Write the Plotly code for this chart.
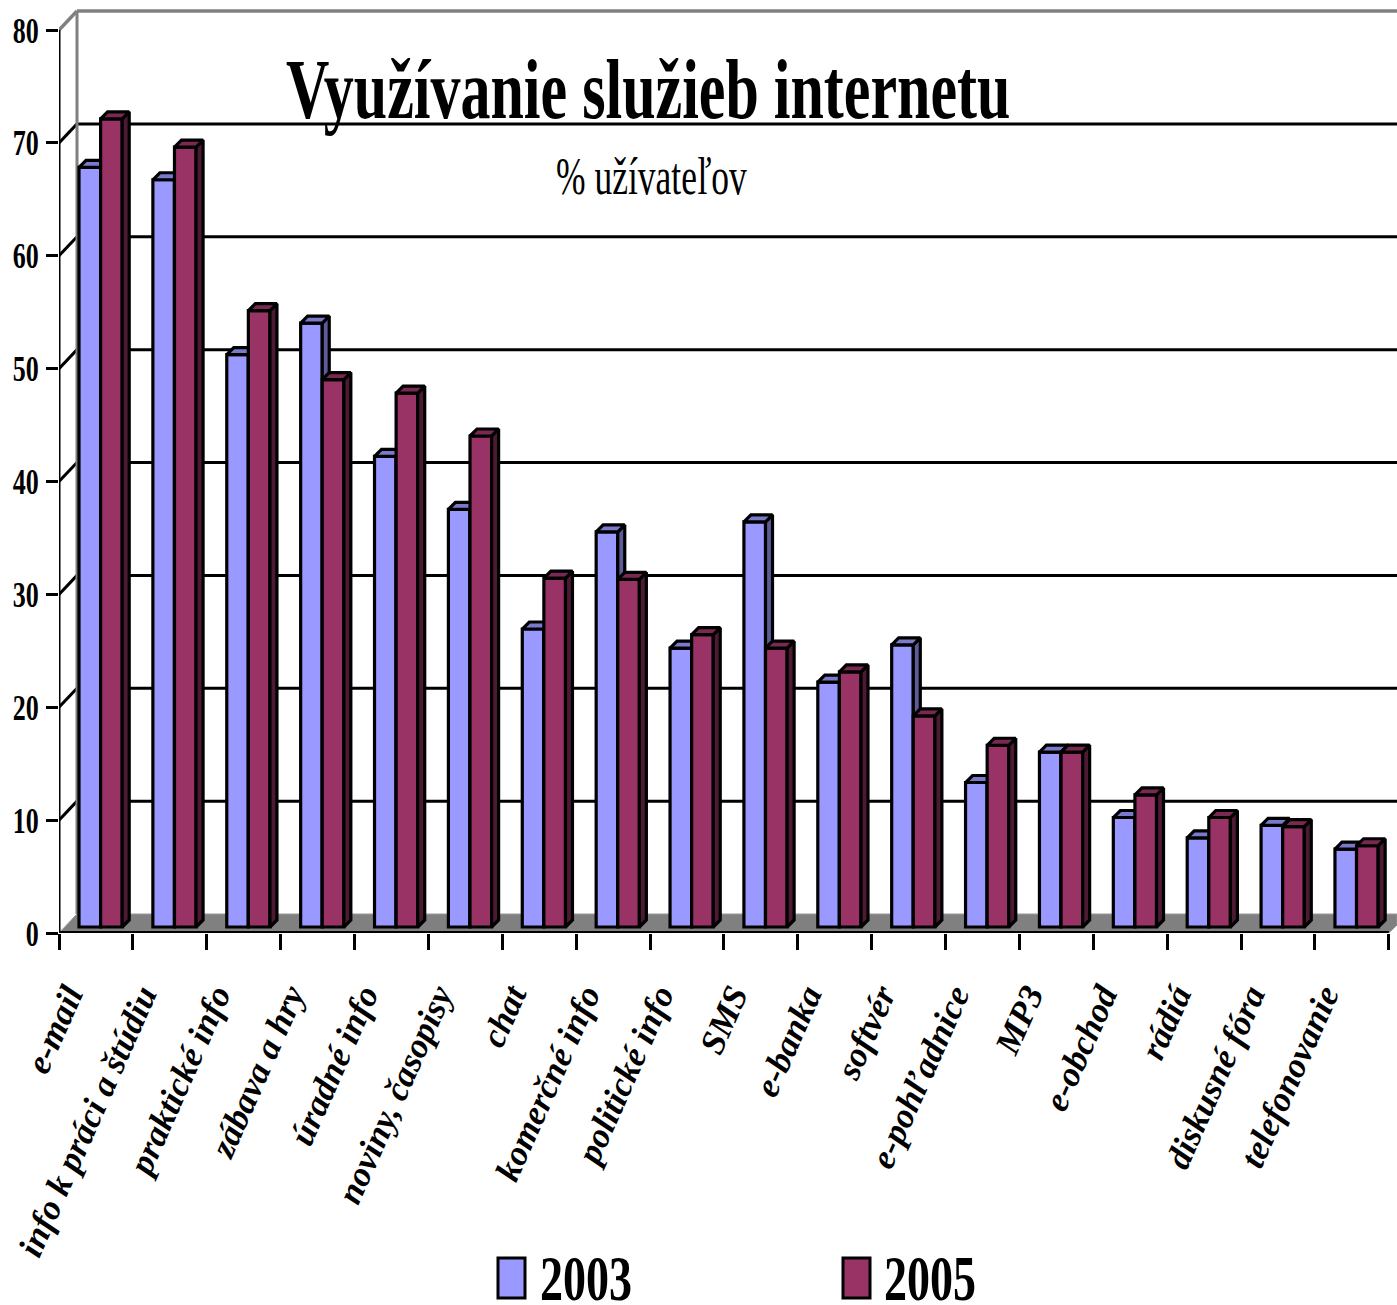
import plotly.graph_objects as go

categories = ["e-mail", "info k práci a štúdiu", "praktické info", "zábava a hry", "úradné info",
              "noviny, časopisy", "chat", "komerčné info", "politické info", "SMS", "e-banka",
              "softvér", "e-pohľadnice", "MP3", "e-obchod", "rádiá", "diskusné fóra", "telefonovanie"]
values_2003 = [67.3, 66.2, 50.7, 53.5, 41.7, 37.0, 26.4, 35.0, 24.7, 35.9, 21.7, 25.0, 12.8, 15.5, 9.7, 7.9, 9.0, 6.9]
values_2005 = [71.6, 69.1, 54.6, 48.5, 47.3, 43.5, 30.9, 30.8, 25.9, 24.7, 22.6, 18.7, 16.1, 15.5, 11.7, 9.7, 8.9, 7.2]
y_ticks = [0, 10, 20, 30, 40, 50, 60, 70, 80]

W, H = 1397, 1305
L, B, T = 59, 372, 6
PX_X = 73.88          # pixels per category
PX_Y = 903 / 80       # pixels per percent
XMAX = (W - L) / PX_X
YMAX = (H - B - T) / PX_Y
WX, WY = 18 / PX_X, 19 / PX_Y        # depth of the wall
DX, DY = 7 / PX_X, 7 / PX_Y          # depth of a bar
BASE = 6 / PX_Y                      # bars stand inside the floor
BW = 21.6 / PX_X
X0 = 20 / PX_X
n = len(categories)
x_2003 = [i + X0 + BW / 2 for i in range(n)]
x_2005 = [i + X0 + BW * 1.5 for i in range(n)]
SERIF = "Liberation Serif"
LW = 3.2


def faces(xc, vals):
    tx, ty, sx, sy = [], [], [], []
    for x, v in zip(xc, vals):
        l, r, t = x - BW / 2, x + BW / 2, v + BASE
        tx += [l, r, r + DX, l + DX, l, None]
        ty += [t, t, t + DY, t + DY, t, None]
        sx += [r, r + DX, r + DX, r, r, None]
        sy += [BASE, BASE + DY, t + DY, t, BASE, None]
    return tx, ty, sx, sy


fig = go.Figure()
series = [("2003", x_2003, values_2003, "#9999FF", "#7A7ACC", "#5C5C99", "x", "y"),
          ("2005", x_2005, values_2005, "#993366", "#7A2952", "#4D1A33", "x2", "y2")]
for name, xc, vals, front, top, side, xa, ya in series:
    fig.add_trace(go.Bar(name=name, x=xc, y=vals, base=BASE, width=BW, xaxis=xa, yaxis=ya,
                         marker=dict(color=front, line=dict(color="black", width=LW)),
                         showlegend=False, hovertemplate=name + ": %{y}<extra></extra>"))
    tx, ty, sx, sy = faces(xc, vals)
    for px, py, col in ((sx, sy, side), (tx, ty, top)):
        fig.add_trace(go.Scatter(x=px, y=py, mode="lines", fill="toself", fillcolor=col, xaxis=xa, yaxis=ya,
                                 line=dict(color="black", width=LW), hoverinfo="skip", showlegend=False))

shapes = []
shapes.append(dict(type="path", layer="below", xref="x", yref="y",
                   path=f"M 0 0 L {WX} {WY} L {XMAX} {WY} L {XMAX} {8/PX_Y} L 18 0 Z",
                   fillcolor="#808080", line=dict(color="#999999", width=1)))
for v in y_ticks[1:]:
    col = "#808080" if v == 80 else "black"
    for x0, y0, x1, y1 in ((0, v, WX, v + WY), (WX, v + WY, XMAX, v + WY)):
        shapes.append(dict(type="line", layer="below", xref="x", yref="y", x0=x0, y0=y0, x1=x1, y1=y1,
                           line=dict(color=col, width=3.5 if v == 80 else 3)))
shapes.append(dict(type="line", layer="below", xref="x", yref="y", x0=WX, y0=WY, x1=WX, y1=80 + WY,
                   line=dict(color="#808080", width=3)))
shapes.append(dict(type="line", layer="below", xref="x", yref="y", x0=0, y0=0, x1=18, y1=0,
                   line=dict(color="black", width=4)))
shapes.append(dict(type="line", layer="below", xref="x", yref="y", x0=0, y0=0, x1=0, y1=80,
                   line=dict(color="black", width=3)))
for x0, col in ((498, "#9999FF"), (843, "#993366")):
    shapes.append(dict(type="rect", xref="paper", yref="paper",
                       x0=(x0 - L) / (W - L), x1=(x0 + 27 - L) / (W - L),
                       y0=(H - B - 1298) / (H - B - T), y1=(H - B - 1258) / (H - B - T),
                       fillcolor=col, line=dict(color="black", width=3)))


def note(text, cx, cy, size, bold=True):
    return dict(text=text, xref="paper", yref="paper", showarrow=False,
                x=(cx - L) / (W - L), y=(H - B - cy) / (H - B - T), xanchor="center", yanchor="middle",
                font=dict(family=SERIF, size=size, color="black", weight="bold" if bold else "normal"))


annotations = [note("Využívanie služieb internetu", 648, 90, 60),
               note("% užívateľov", 651, 176, 35.5, bold=False),
               note("2003", 586, 1278, 46),
               note("2005", 930, 1278, 46)]

axis_common = dict(showgrid=False, zeroline=False, showline=False)
fig.update_layout(
    width=W, height=H, margin=dict(l=L, r=0, t=T, b=B), paper_bgcolor="white", plot_bgcolor="rgba(0,0,0,0)",
    barmode="overlay", shapes=shapes, annotations=annotations, showlegend=False,
    font=dict(family=SERIF, color="black"),
    xaxis=dict(range=[0, XMAX], tickmode="array", tickvals=[i + 0.12 for i in range(n)], ticktext=categories,
               tickangle=-66, ticks="", ticklabelstandoff=34,
               tickfont=dict(family=SERIF, size=35, style="italic", weight="bold", color="black"),
               minor=dict(tickmode="array", tickvals=list(range(n + 1)), ticks="outside", ticklen=16,
                          tickcolor="black", tickwidth=3),
               **axis_common),
    yaxis=dict(range=[0, YMAX], tickmode="array", tickvals=y_ticks, ticks="outside", ticklen=12,
               tickcolor="black", tickwidth=3, ticklabelstandoff=2,
               tickfont=dict(family=SERIF, size=26, weight="bold", color="black"), **axis_common),
    xaxis2=dict(range=[0, XMAX], overlaying="x", visible=False, **axis_common),
    yaxis2=dict(range=[0, YMAX], overlaying="y", visible=False, **axis_common),
)

# The reference's text is drawn tall and narrow: stretch the real text vertically about its own centre.
post = """
document.body.style.margin = '0';
function stretch(el, k) {
  var b = el.getBBox(), cy = b.y + b.height / 2, prev = el.getAttribute('transform') || '';
  el.setAttribute('transform', prev + ' translate(0,' + cy + ') scale(1,' + k + ') translate(0,' + (-cy) + ')');
}
document.querySelectorAll('.annotation-text').forEach(function (t) {
  stretch(t, t.textContent.indexOf('%') === 0 ? 1.5 : 1.4);
});
document.querySelectorAll('.ytick text').forEach(function (t) { stretch(t, 1.4); });
"""
fig.write_html("out.html", post_script=post, config={"displayModeBar": False})
